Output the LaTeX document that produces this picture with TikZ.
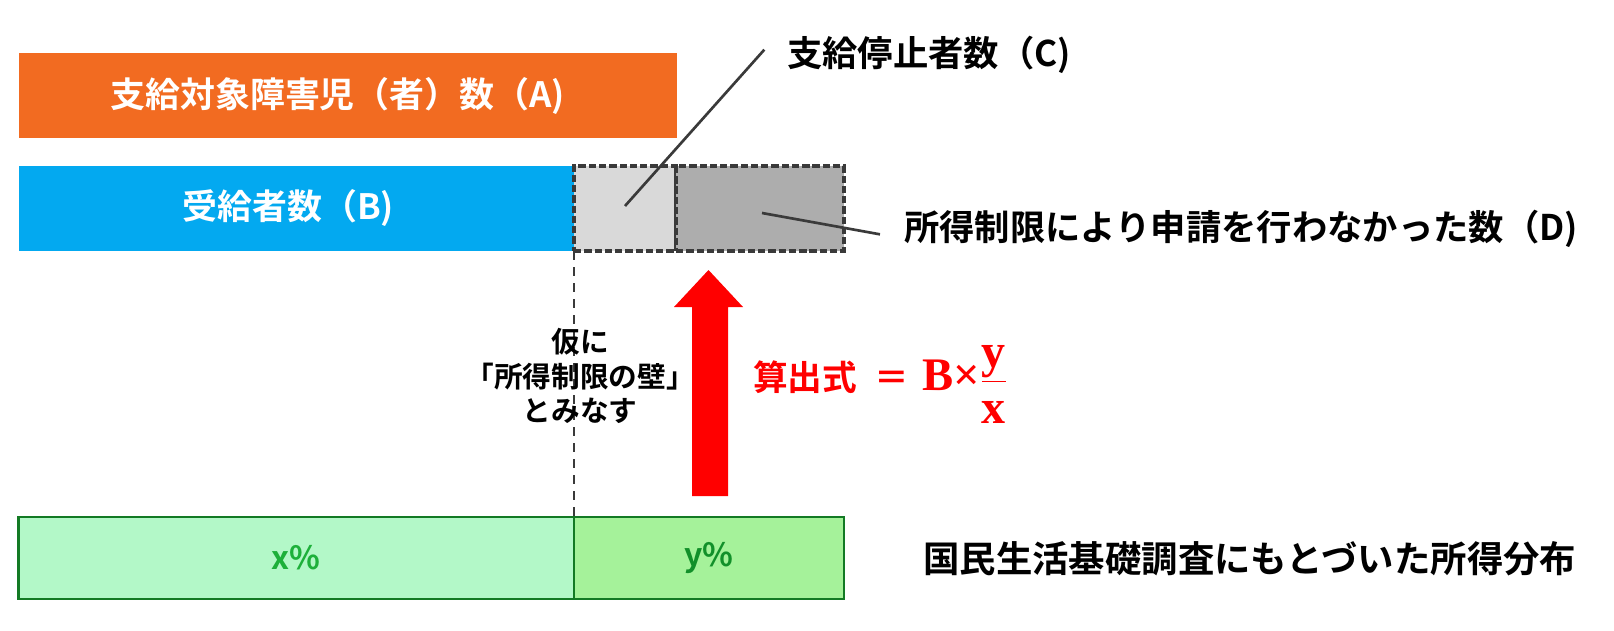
\documentclass[tikz,border=0pt]{standalone}
\usepackage{fontspec}
\setmainfont{Noto Sans CJK JP}[BoldFont={* Bold}]
\newfontfamily\serifb{Liberation Serif}
\usetikzlibrary{positioning}
\definecolor{orangeA}{HTML}{F26B21}
\definecolor{blueB}{HTML}{03A9F0}
\definecolor{grayC}{HTML}{D9D9D9}
\definecolor{grayD}{HTML}{ADADAD}
\definecolor{dashgray}{HTML}{3A3A3A}
\definecolor{greenX}{HTML}{B3F8C8}
\definecolor{greenY}{HTML}{A5F29A}
\definecolor{greenline}{HTML}{137A24}
\definecolor{greentxtX}{HTML}{1DB03A}
\definecolor{greentxtY}{HTML}{12902A}
\newcommand{\sbf}[1]{\hbox{\serifb\bfseries\fontsize{36}{38}\selectfont #1}}
\begin{document}
\begin{tikzpicture}[x=0.75pt,y=-0.75pt,
  bar/.style={anchor=north west,inner sep=0pt,outer sep=0pt,text=white,font=\bfseries\fontsize{26.2}{30}\selectfont},
  dbox/.style={anchor=north west,inner sep=0pt,outer sep=0pt,draw=dashgray,line width=2.6pt,dash pattern=on 5.5pt off 2.2pt},
  gbox/.style={anchor=north west,inner sep=0pt,outer sep=0pt,draw=greenline,line width=2.2pt,font=\bfseries\fontsize{24}{28}\selectfont},
  lbl/.style={inner sep=0pt,font=\bfseries\fontsize{26.5}{30}\selectfont},
  callout/.style={draw=dashgray,line width=2pt}]
\useasboundingbox (0,0) rectangle (1614,631);
% bars
\node[bar,fill=orangeA,minimum width=493.9pt,minimum height=63.4pt] (A) at (18.5,53.5) {支給対象障害児（者）数（A)\kern15pt};
\node[bar,fill=blueB,minimum width=416.6pt,minimum height=63.75pt] (B) at (18.5,166) {受給者数（B)\kern12pt};
\node[dbox,fill=grayC,minimum width=76.5pt,minimum height=63.75pt] (C) at (574,166) {};
\node[dbox,fill=grayD,minimum width=126pt,minimum height=63.75pt] (D) at (676,166) {};
% green distribution
\node[gbox,fill=greenX,text=greentxtX,minimum width=416.6pt,minimum height=61.5pt] (X) at (18.5,517) {x\%};
\node[gbox,fill=greenY,text=greentxtY,minimum width=202.5pt,minimum height=61.5pt] (Y) at (574,517) {y\%};
% wall dashed line
\draw[dashgray,line width=1.8pt,dash pattern=on 7pt off 5pt] (B.south east) -- (X.north east);
% labels
\node[lbl,anchor=west] (Ct) at (787,55) {支給停止者数（C)};
\node[lbl,anchor=west] (Dt) at (904,229) {所得制限により申請を行わなかった数（D)};
\node[lbl,anchor=west,font=\bfseries\fontsize{27.3}{30}\selectfont] (Gt) at (923,559) {国民生活基礎調査にもとづいた所得分布};
\node[inner sep=0pt,align=center,font=\bfseries\fontsize{21.5}{26}\selectfont] (W) at (580,376) {仮に\\「所得制限の壁」\\とみなす};
% callouts
\coordinate (Cp) at (625,206);
\coordinate (Dp) at (762,213);
\draw[callout] (Cp) -- ([xshift=-17pt,yshift=4pt]Ct.west);
\draw[callout] (Dp) -- ([xshift=-18pt,yshift=-4pt]Dt.west);
% red arrow
\coordinate (Tip) at (708.5,270);
\fill[red] (692,496) -- (692,307) -- (674,307) -- (Tip) -- (743,307) -- (728,307) -- (728,496) -- cycle;
% formula
\node[anchor=base west,text=red,inner sep=0pt] (F) at (753,390) {\bfseries\fontsize{26}{30}\selectfont 算出式\hspace{13pt}＝\hspace{10pt}{\serifb\bfseries\fontsize{35}{38}\selectfont B×}$\displaystyle\frac{\sbf{y}\rule[-4pt]{0pt}{1pt}}{\rule{0pt}{30pt}\sbf{x}}$};
\end{tikzpicture}
\end{document}
